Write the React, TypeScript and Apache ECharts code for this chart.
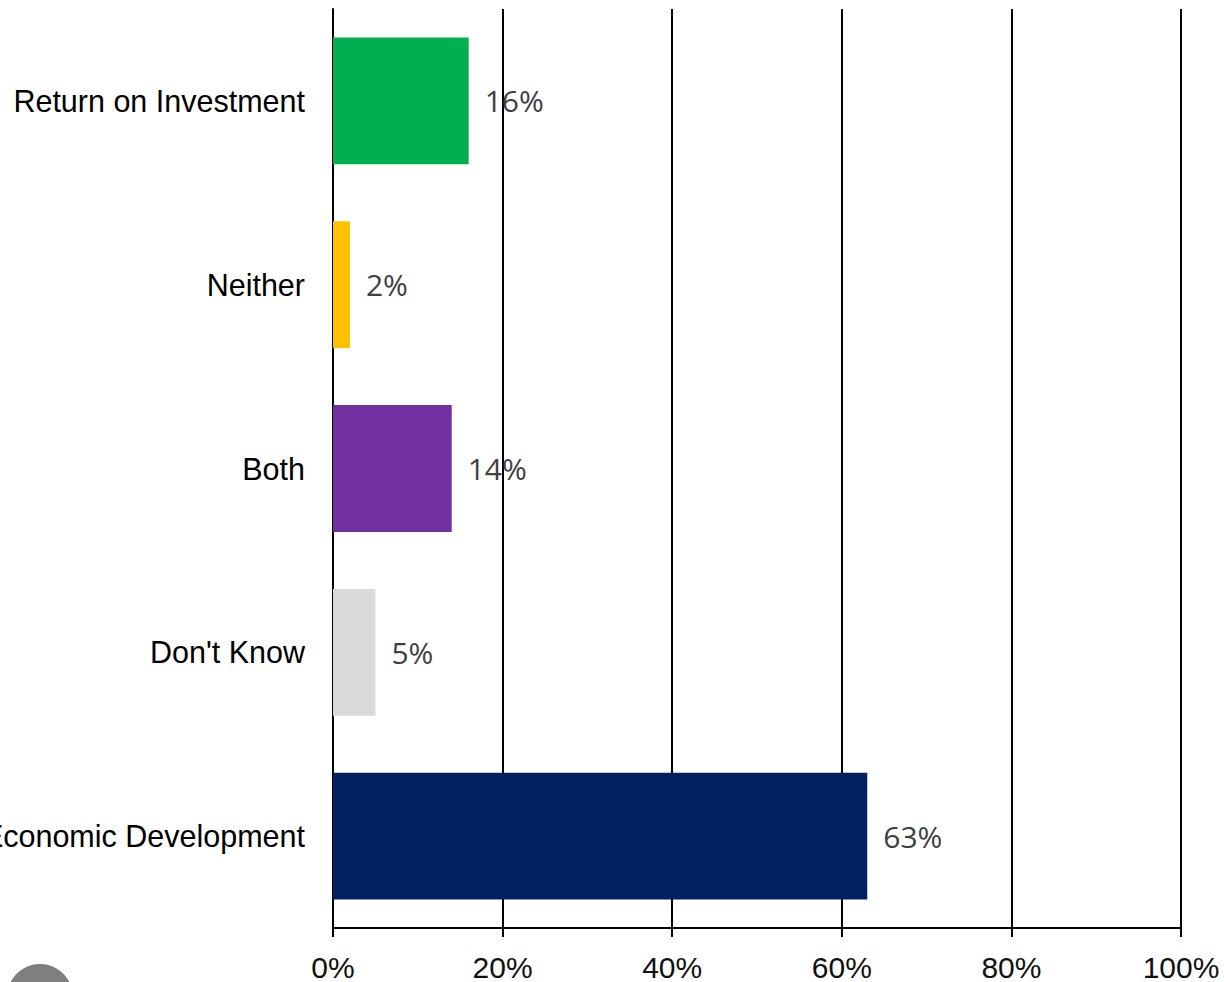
import React, { useEffect, useRef } from "react";
import * as echarts from "echarts";

const categories = ["Return on Investment", "Neither", "Both", "Don't Know", "Economic Development"];
const values = [16, 2, 14, 5, 63];
const barColors = ["#00B050", "#FFC000", "#7030A0", "#D9D9D9", "#002060"];
const xTicks = [0, 20, 40, 60, 80, 100];

export default function App() {
  const ref = useRef<HTMLDivElement>(null);
  useEffect(() => {
    const chart = echarts.init(ref.current!, null, { renderer: "svg" });
    chart.setOption({
      animation: false,
      backgroundColor: "#ffffff",
      grid: {
        left: 333,
        right: 43,
        top: 9,
        bottom: 54,
        containLabel: false,
        outerBoundsMode: "none",
      },
      xAxis: {
        type: "value",
        min: xTicks[0],
        max: xTicks[xTicks.length - 1],
        interval: 20,
        axisLine: { show: true, lineStyle: { color: "#000", width: 2 } },
        axisTick: { show: true, length: 9, lineStyle: { color: "#000", width: 2 } },
        splitLine: { show: true, lineStyle: { color: "#000", width: 2 } },
        axisLabel: {
          formatter: "{value}%",
          fontSize: 30,
          color: "#111",
          fontFamily: "Liberation Sans, Arial, sans-serif",
          margin: 24,
        },
      },
      yAxis: {
        type: "category",
        inverse: true,
        data: categories,
        axisLine: { show: true, lineStyle: { color: "#000", width: 2 } },
        axisTick: { show: false },
        axisLabel: {
          fontSize: 30.5,
          color: "#000",
          fontFamily: "Liberation Sans, Arial, sans-serif",
          margin: 28,
        },
      },
      series: [
        {
          type: "bar",
          data: values.map((v, i) => ({ value: v, itemStyle: { color: barColors[i] } })),
          barCategoryGap: "31%",
          label: {
            show: true,
            position: "right",
            distance: 16,
            formatter: "{c}%",
            fontSize: 30,
            color: "#404040",
            fontWeight: 500,
            fontFamily: "Open Sans, Lato, sans-serif",
          },
        },
      ],
      graphic: [
        {
          type: "circle",
          shape: { cx: 40, cy: 997, r: 33 },
          style: { fill: "#7f7f7f" },
          z: 10,
        },
      ],
    });
    return () => chart.dispose();
  }, []);
  return (
    <div
      ref={ref}
      style={{ position: "absolute", left: 0, top: 0, width: 1224, height: 982 }}
    />
  );
}
